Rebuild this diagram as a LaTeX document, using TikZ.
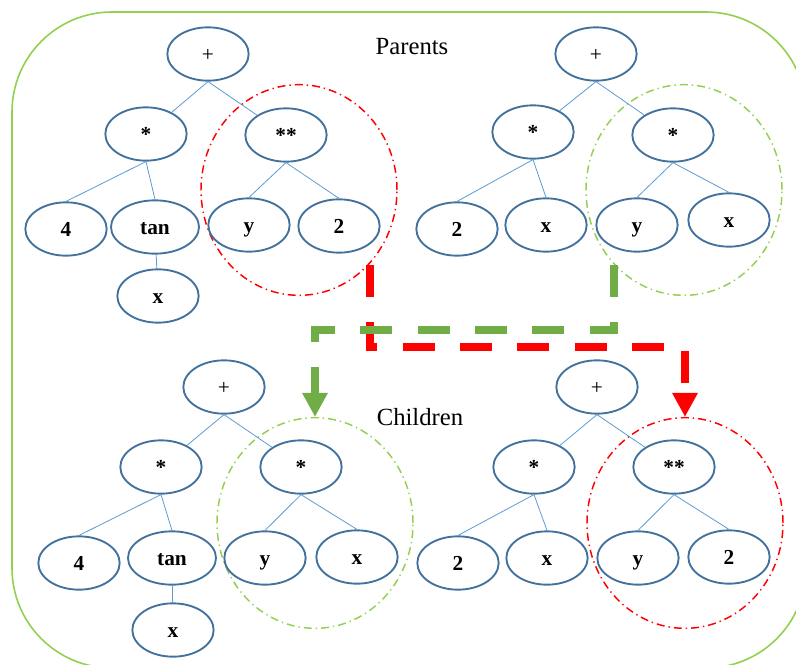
\documentclass[tikz,border=0pt]{standalone}
\usepackage{fontspec}
\setmainfont{Liberation Serif}
\usetikzlibrary{shapes.geometric,arrows.meta}
\definecolor{nodeblue}{RGB}{65,113,156}
\definecolor{edgeblue}{RGB}{91,155,213}
\definecolor{boxgreen}{RGB}{146,208,80}
\definecolor{arrowgreen}{RGB}{112,173,71}
\tikzset{
  tnode/.style={ellipse, draw=nodeblue, line width=1.4pt, minimum width=61pt, minimum height=40pt, inner sep=0pt, text height=10.6pt, text depth=0pt, font=\fontsize{16}{18}\selectfont\bfseries},
  tedge/.style={draw=edgeblue, line width=0.6pt},
  subtree/.style={ellipse, line width=1.1pt, minimum width=147pt, minimum height=158pt, dash pattern=on 6pt off 3pt on 1pt off 3pt},
  xfer/.style={line width=6pt, dash pattern=on 24pt off 19pt, -{Triangle[length=18pt,width=18pt]}}
}
\begin{document}
\begin{tikzpicture}[x=0.75pt,y=-0.75pt]
\useasboundingbox (0,0) rectangle (796,664);
\draw[boxgreen, line width=1.2pt, rounded corners=75pt] (12,12) rectangle (806,668);
\node[font=\fontsize{18.5}{20}\selectfont] (ptitle) at (412,47) {Parents};
\node[font=\fontsize{18.5}{20}\selectfont] (ctitle) at (420,417) {Children};
\node[subtree, draw=red] (pr) at (299,190) {};
\node[subtree, draw=boxgreen] (pg) at (684,190) {};
\node[subtree, draw=boxgreen] (cg) at (315,523) {};
\node[subtree, draw=red] (cr) at (685,523) {};
\node[tnode] (lp0) at (208,54) {\mdseries +};
\node[tnode] (lp1) at (146,134) {*};
\node[tnode] (lp2) at (286,135) {**};
\node[tnode] (lp3) at (66,229) {4};
\node[tnode, minimum width=66pt] (lp4) at (155,227) {tan};
\node[tnode] (lp5) at (158,296) {x};
\node[tnode] (lp6) at (249,225) {y};
\node[tnode] (lp7) at (339,226) {2};
\draw[tedge](lp0.south) -- (lp1);
\draw[tedge](lp0.south) -- (lp2);
\draw[tedge](lp1.south) -- (lp3.north);
\draw[tedge](lp1.south) -- (lp4.north);
\draw[tedge](lp4) -- (lp5);
\draw[tedge](lp2.south) -- (lp6.north);
\draw[tedge](lp2.south) -- (lp7.north);
\node[tnode] (rp0) at (596,54) {\mdseries +};
\node[tnode] (rp1) at (533,132) {*};
\node[tnode] (rp2) at (673,135) {*};
\node[tnode] (rp3) at (457,229) {2};
\node[tnode] (rp4) at (546,225) {x};
\node[tnode] (rp5) at (637,225) {y};
\node[tnode] (rp6) at (729,220) {x};
\draw[tedge](rp0.south) -- (rp1);
\draw[tedge](rp0.south) -- (rp2);
\draw[tedge](rp1.south) -- (rp3.north);
\draw[tedge](rp1.south) -- (rp4.north);
\draw[tedge](rp2.south) -- (rp5.north);
\draw[tedge](rp2.south) -- (rp6.north);
\node[tnode] (lc0) at (224,387) {\mdseries +};
\node[tnode] (lc1) at (161,467) {*};
\node[tnode] (lc2) at (301,467) {*};
\node[tnode] (lc3) at (79,563) {4};
\node[tnode, minimum width=66pt] (lc4) at (172,558) {tan};
\node[tnode] (lc5) at (173,630) {x};
\node[tnode] (lc6) at (265,558) {y};
\node[tnode] (lc7) at (357,557) {x};
\draw[tedge](lc0.south) -- (lc1);
\draw[tedge](lc0.south) -- (lc2);
\draw[tedge](lc1.south) -- (lc3.north);
\draw[tedge](lc1.south) -- (lc4.north);
\draw[tedge](lc4) -- (lc5);
\draw[tedge](lc2.south) -- (lc6.north);
\draw[tedge](lc2.south) -- (lc7.north);
\node[tnode] (rc0) at (597,387) {\mdseries +};
\node[tnode] (rc1) at (534,467) {*};
\node[tnode] (rc2) at (674,467) {**};
\node[tnode] (rc3) at (458,563) {2};
\node[tnode] (rc4) at (547,558) {x};
\node[tnode] (rc5) at (638,558) {y};
\node[tnode] (rc6) at (729,557) {2};
\draw[tedge](rc0.south) -- (rc1);
\draw[tedge](rc0.south) -- (rc2);
\draw[tedge](rc1.south) -- (rc3.north);
\draw[tedge](rc1.south) -- (rc4.north);
\draw[tedge](rc2.south) -- (rc5.north);
\draw[tedge](rc2.south) -- (rc6.north);
\coordinate (rs) at (370,265);
\coordinate (gs) at (614,265);
\draw[xfer, red](rs) -- ++(0,82) -| (cr.north);
\draw[xfer, arrowgreen](gs) -- ++(0,65) -| (cg.north);
\end{tikzpicture}
\end{document}
